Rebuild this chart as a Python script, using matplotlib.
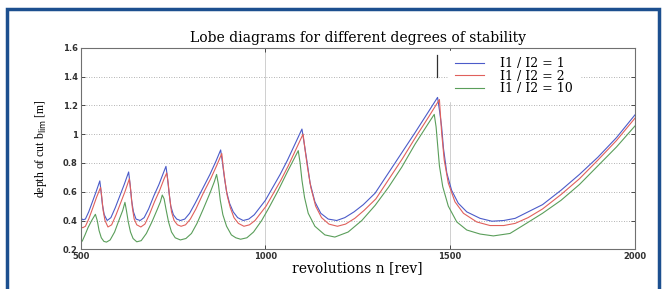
import matplotlib
matplotlib.use("Agg")
import matplotlib.pyplot as plt
from matplotlib.patches import Rectangle
from matplotlib.lines import Line2D

# values
blue_n = [500, 506, 513, 522, 532, 542, 552,
          555, 559, 564, 572, 582, 594, 606, 618, 630,
          634, 638, 643, 650, 661, 672, 684, 698, 712, 724, 731,
          735, 739, 744, 751, 760, 770, 782, 795, 810, 830, 850, 866, 879,
          884, 889, 895, 903, 913, 925, 940, 955, 970, 985, 1000, 1020, 1040, 1060, 1080, 1099,
          1106, 1112, 1121, 1134, 1150, 1170, 1193, 1215, 1240, 1265, 1297, 1333, 1369, 1405, 1440, 1466,
          1472, 1477, 1482, 1491, 1504, 1522, 1545, 1581, 1613, 1645, 1676, 1711, 1750, 1800, 1850, 1900, 1950, 2000]
blue_b = [0.42, 0.405, 0.41, 0.46, 0.53, 0.60, 0.675,
          0.61, 0.51, 0.44, 0.40, 0.42, 0.49, 0.57, 0.65, 0.737,
          0.65, 0.54, 0.46, 0.41, 0.40, 0.42, 0.48, 0.57, 0.65, 0.73, 0.776,
          0.70, 0.60, 0.50, 0.44, 0.41, 0.40, 0.41, 0.45, 0.52, 0.62, 0.72, 0.81, 0.89,
          0.80, 0.70, 0.60, 0.52, 0.46, 0.42, 0.40, 0.41, 0.44, 0.49, 0.54, 0.63, 0.72, 0.82, 0.93, 1.035,
          0.92, 0.82, 0.66, 0.53, 0.45, 0.41, 0.40, 0.42, 0.46, 0.51, 0.59, 0.73, 0.87, 1.01, 1.15, 1.255,
          1.15, 1.05, 0.90, 0.73, 0.61, 0.52, 0.46, 0.415, 0.395, 0.40, 0.415, 0.46, 0.51, 0.61, 0.72, 0.84, 0.975, 1.133]

red_n = [500, 506, 513, 522, 532, 543, 554,
         557, 561, 566, 574, 584, 596, 608, 620, 632,
         636, 640, 645, 652, 663, 674, 686, 700, 714, 726, 733,
         737, 741, 746, 753, 762, 772, 784, 797, 812, 832, 852, 868, 882,
         886, 891, 897, 905, 915, 927, 942, 957, 972, 987, 1002, 1022, 1042, 1062, 1082, 1102,
         1108, 1114, 1123, 1136, 1152, 1172, 1195, 1217, 1242, 1267, 1299, 1335, 1371, 1407, 1442, 1471,
         1477, 1484, 1495, 1513, 1536, 1572, 1608, 1645, 1676, 1711, 1750, 1800, 1850, 1900, 1950, 2000]
red_b = [0.355, 0.35, 0.36, 0.41, 0.48, 0.56, 0.63,
         0.57, 0.47, 0.40, 0.355, 0.37, 0.44, 0.52, 0.60, 0.69,
         0.60, 0.49, 0.41, 0.37, 0.355, 0.375, 0.44, 0.53, 0.61, 0.69, 0.73,
         0.66, 0.56, 0.46, 0.40, 0.37, 0.36, 0.37, 0.41, 0.48, 0.59, 0.69, 0.78, 0.865,
         0.77, 0.67, 0.57, 0.49, 0.42, 0.38, 0.36, 0.37, 0.40, 0.45, 0.50, 0.59, 0.68, 0.78, 0.89, 1.0,
         0.88, 0.77, 0.63, 0.50, 0.42, 0.375, 0.36, 0.375, 0.415, 0.47, 0.55, 0.69, 0.83, 0.98, 1.12, 1.24,
         1.01, 0.82, 0.66, 0.53, 0.45, 0.39, 0.365, 0.365, 0.38, 0.42, 0.48, 0.58, 0.69, 0.82, 0.955, 1.11]

green_n = [500, 505, 512, 520, 530, 540,
           545, 550, 556, 563, 570, 580, 592, 605, 614, 620,
           624, 629, 635, 642, 652, 664, 678, 693, 708, 716, 721,
           726, 731, 738, 746, 756, 770, 785, 800, 815, 832, 850, 862, 868,
           873, 878, 885, 895, 908, 920, 933, 950, 968, 990, 1010, 1035, 1060, 1080, 1089,
           1094, 1099, 1106, 1116, 1134, 1161, 1188, 1224, 1261, 1297, 1333, 1369, 1405, 1440, 1457,
           1462, 1465, 1471, 1480, 1495, 1518, 1545, 1581, 1617, 1662, 1700, 1750, 1800, 1850, 1900, 1950, 2000]
green_b = [0.242, 0.26, 0.30, 0.35, 0.40, 0.443,
           0.40, 0.33, 0.28, 0.255, 0.25, 0.265, 0.32, 0.41, 0.47, 0.526,
           0.47, 0.39, 0.32, 0.275, 0.252, 0.26, 0.31, 0.39, 0.48, 0.53, 0.577,
           0.55, 0.48, 0.39, 0.32, 0.28, 0.265, 0.275, 0.31, 0.38, 0.48, 0.59, 0.67, 0.72,
           0.65, 0.54, 0.44, 0.36, 0.30, 0.28, 0.27, 0.28, 0.32, 0.40, 0.49, 0.61, 0.74, 0.84, 0.885,
           0.80, 0.68, 0.56, 0.45, 0.36, 0.30, 0.285, 0.32, 0.40, 0.505, 0.63, 0.77, 0.93, 1.07, 1.137,
           1.05, 0.96, 0.78, 0.635, 0.50, 0.39, 0.334, 0.306, 0.293, 0.31, 0.37, 0.45, 0.54, 0.65, 0.78, 0.91, 1.056]

labels = ["I1 / I2 = 1", "I1 / I2 = 2", "I1 / I2 = 10"]
x_ticks = [500, 1000, 1500, 2000]
y_ticks = [0.2, 0.4, 0.6, 0.8, 1.0, 1.2, 1.4, 1.6]
y_ticklabels = ["0.2", "0.4", "0.6", "0.8", "1", "1.2", "1.4", "1.6"]

serif = ["DejaVu Serif"]

fig = plt.figure(figsize=(6.65, 2.89), dpi=100)
fig.patch.set_facecolor("white")

# dark blue frame round the picture
fig.patches.append(Rectangle((7 / 665, -0.05), 652 / 665, 1 - 9.5 / 289 + 0.05,
                             transform=fig.transFigure, fill=False,
                             edgecolor="#1c4f8f", linewidth=2.5))

ax = fig.add_axes([80.6 / 665, 1 - 249.3 / 289, 554.3 / 665, 201.6 / 289])

ax.plot(blue_n, blue_b, color="#4b5bc9", lw=0.8, label=labels[0])
ax.plot(red_n, red_b, color="#e0605c", lw=0.8, label=labels[1])
ax.plot(green_n, green_b, color="#5a9e5a", lw=0.8, label=labels[2])

ax.set_xlim(500, 2000)
ax.set_ylim(0.2, 1.6)
ax.set_xticks(x_ticks)
ax.set_yticks(y_ticks)
ax.set_yticklabels(y_ticklabels)

for y in y_ticks[1:-1]:
    ax.axhline(y, color="#9a9a9a", lw=0.6, ls=(0, (1, 2)), zorder=0)
for x in x_ticks[1:-1]:
    ax.axvline(x, color="#cfcfcf", lw=0.7, zorder=0)

ax.tick_params(direction="in", length=3, width=0.6, colors="#303030",
               labelsize=6, top=True, right=True, pad=2)
for lab in ax.get_xticklabels() + ax.get_yticklabels():
    lab.set_fontweight("bold")
for s in ax.spines.values():
    s.set_color("#707070")
    s.set_linewidth(0.8)

ax.set_title("Lobe diagrams for different degrees of stability",
             family=serif, fontsize=10, pad=4)
ax.set_xlabel("revolutions n [rev]", family=serif, fontsize=10, labelpad=0)
ax.set_ylabel(r"depth of cut b$_{\rm lim}$ [m]", family=["Liberation Serif"],
              fontsize=8.5, labelpad=10)

leg = ax.legend(loc="upper right", bbox_to_anchor=(0.91, 1.015), frameon=True,
                fancybox=False, edgecolor="white", facecolor="white",
                framealpha=1, prop={"family": serif, "size": 9},
                handlelength=2.3, handletextpad=1.3, labelspacing=-0.05,
                borderpad=0.5)

# small black stroke at the legend's left edge, as in the source image
fig.add_artist(Line2D([437 / 665, 437 / 665], [1 - 55 / 289, 1 - 77 / 289],
                      transform=fig.transFigure, color="#303030", lw=0.9))

fig.savefig("out.png", dpi=100, facecolor="white")
